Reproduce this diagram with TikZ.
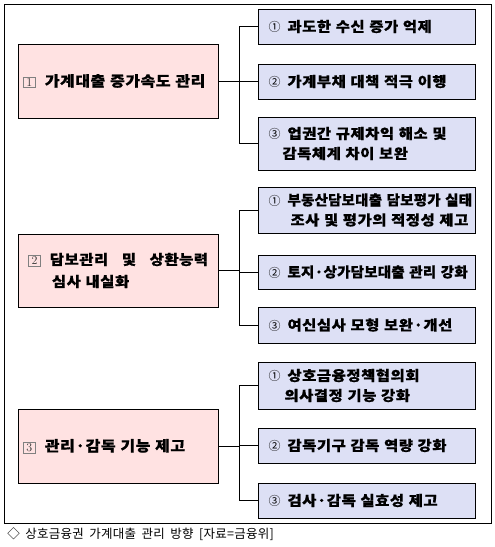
\documentclass[tikz,border=0pt]{standalone}
\usepackage{fontspec}
\usepackage{xcolor}
\newfontfamily\kr{Noto Sans CJK KR}
\newfontfamily\krwide{Noto Sans CJK KR}[WordSpace=2.2, FakeStretch=1.1, LetterSpace=4, BoldFeatures={FakeBold=0.6}]
\newfontfamily\krnarrow{Noto Sans CJK KR}[WordSpace=2.2, FakeStretch=1.03, LetterSpace=2, BoldFeatures={FakeBold=0.6}]
\newfontfamily\krcap{Noto Sans CJK KR}[LetterSpace=2, WordSpace=1.8]
\definecolor{pinkfill}{RGB}{255,226,226}
\definecolor{bluefill}{RGB}{221,224,245}
\newcommand{\boxnum}[1]{\hspace*{1pt}{\fboxsep=1pt\fboxrule=0.5pt\color{gray}\fbox{\color{black!80}\normalfont\mdseries\fontsize{12}{12}\selectfont\,#1\,}}\hspace{9pt}}
\newcommand{\cnum}[1]{\hspace*{7.5pt}{\kr\mdseries\fontsize{12}{12}\selectfont #1}\hspace{7pt}}
\tikzset{
  leftbox/.style = {draw, fill = pinkfill, minimum width = 200pt, text width = 192pt,
    inner xsep = 4pt, align = left,
    font = {\krwide\bfseries\fontsize{14.5}{22}\selectfont}},
  rightbox/.style = {draw, fill = bluefill, minimum width = 217pt, text width = 212pt,
    inner xsep = 2.5pt, align = left,
    font = {\krwide\bfseries\fontsize{14}{20}\selectfont}}
}
\begin{document}
\begin{tikzpicture}[x = 1pt, y = -1pt, line width = 0.8pt]
\useasboundingbox (0, 0) rectangle (495, 547);
\draw (4, 4) rectangle (491, 523);
% left column
\node (l1) at (118, 81) [leftbox, minimum height = 74pt] {\boxnum{1}가계대출 증가속도 관리};
\node (l2) at (118, 270.5) [leftbox, minimum height = 73pt, font = {\krwide\bfseries\fontsize{14}{22}\selectfont}]
  {\hspace*{5pt}\boxnum{2}담보관리\hspace{9pt} 및\hspace{9pt} 상환능력\\\hspace*{30pt}심사 내실화};
\node (l3) at (118, 446) [leftbox, minimum height = 74pt] {\boxnum{3}관리·감독 기능 제고};
% right column
\node (r11) at (367, 26.5) [rightbox, minimum height = 35pt] {\cnum{①}과도한 수신 증가 억제};
\node (r12) at (367, 81.5) [rightbox, minimum height = 35pt] {\cnum{②}가계부채 대책 적극 이행};
\node (r13) at (367, 143.5) [rightbox, minimum height = 53pt] {\cnum{③}업권간 규제차익 해소 및\\\hspace*{21.5pt}감독체계 차이 보완};
\node (r21) at (367, 210) [rightbox, minimum height = 46pt]
  {\cnum{①}{\krnarrow 부동산담보대출 담보평가 실태}\\\hspace*{29.5pt}조사 및 평가의 적정성 제고};
\node (r22) at (367, 272) [rightbox, minimum height = 34pt] {\cnum{②}{\krnarrow 토지·상가담보대출 관리 강화}};
\node (r23) at (367, 325) [rightbox, minimum height = 36pt] {\cnum{③}여신심사 모형 보완·개선};
\node (r31) at (367, 385.5) [rightbox, minimum height = 47pt] {\cnum{①}상호금융정책협의회\\\hspace*{23.5pt}의사결정 기능 강화};
\node (r32) at (367, 445.5) [rightbox, minimum height = 35pt] {\cnum{②}감독기구 감독 역량 강화};
\node (r33) at (367, 500.5) [rightbox, minimum height = 35pt] {\cnum{③}검사·감독 실효성 제고};
% connectors
\coordinate (j) at (239, 0);
\foreach \g in {1, 2, 3} {
  \draw (l\g.east) -- (l\g.east -| j);
  \draw (r\g1.west) -| (j |- r\g3.west) -- (r\g3.west);
  \draw (r\g2.west) -- (r\g2.west -| j);
}
\node (caption) at (7, 534) [anchor = west, inner sep = 0pt,
  font = {\krcap\fontsize{12.5}{12.5}\selectfont}] {◇ 상호금융권 가계대출 관리 방향 [자료=금융위]};
\end{tikzpicture}
\end{document}
